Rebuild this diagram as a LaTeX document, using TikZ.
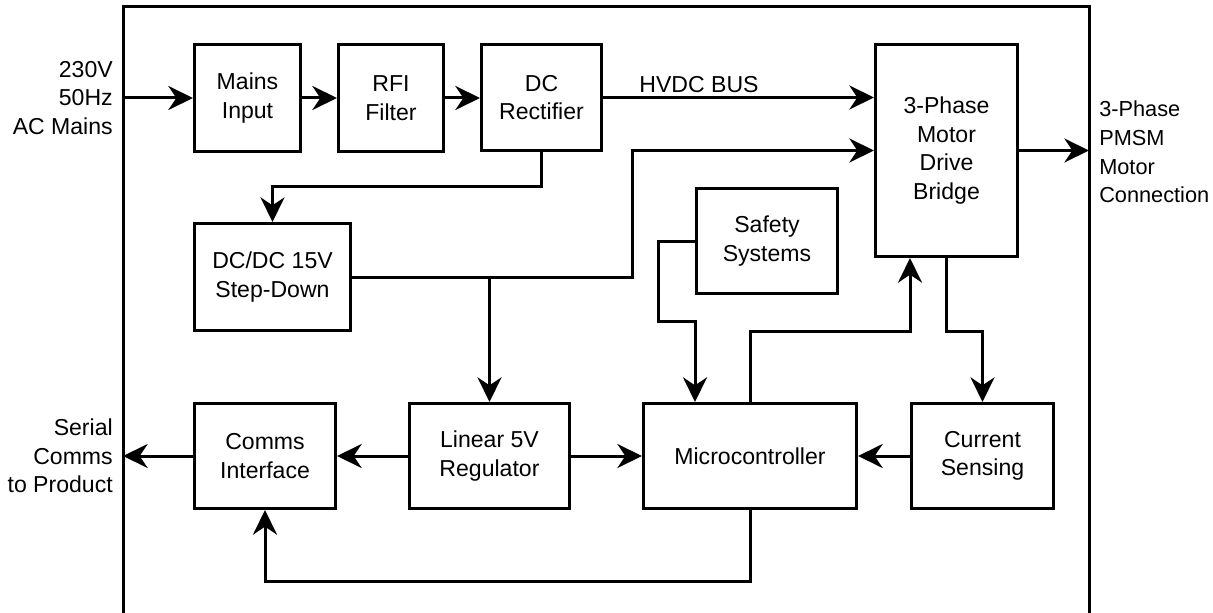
\documentclass[tikz,border=0pt]{standalone}
\usepackage{fontspec}
\setmainfont{Liberation Sans}
\usetikzlibrary{positioning,arrows.meta}

\begin{document}
\begin{tikzpicture}[x=0.75pt,y=-0.75pt,
    font=\fontsize{17.3pt}{21.4pt}\selectfont,
    blk/.style={draw,line width=2.25pt,align=center,inner sep=2pt,minimum height=78.75pt},
    arr/.style={-{Stealth[length=18.5pt,width=18pt,inset=6pt]},line width=2.25pt},
    wire/.style={line width=2.25pt}]
  \useasboundingbox (0,0) rectangle (1213,613);
  % enclosure
  \draw[wire] (123,613) -- (123,7) -- (1089,7) -- (1089,613);
  \coordinate (acin) at (123,98);
  \coordinate (serout) at (123,456);
  \coordinate (motout) at (1089,150.5);
  % power path
  \node[blk,minimum width=79.5pt,minimum height=80.25pt] (mains) at (247.5,98) {Mains\\Input};
  \node[blk,minimum width=78.75pt,minimum height=80.25pt] (rfi) at (391,98) {RFI\\Filter};
  \node[blk,minimum width=90pt,minimum height=79.5pt] (rect) at (541.5,97.5) {DC\\Rectifier};
  \node[blk,minimum width=106.5pt,minimum height=159pt] (bridge) at (946.5,150.5) {3-Phase\\Motor\\Drive\\Bridge};
  \node[blk,minimum width=117pt,minimum height=80.25pt] (dcdc) at (272.5,277) {DC/DC 15V\\Step-Down};
  \node[blk,minimum width=105.75pt] (safety) at (767,241) {Safety\\Systems};
  % control path
  \node[blk,minimum width=105.75pt] (comms) at (265,456) {Comms\\Interface};
  \node[blk,minimum width=120pt] (lin) at (489.5,456) {Linear 5V\\Regulator};
  \node[blk,minimum width=159.75pt] (micro) at (750,456) {Microcontroller};
  \node[blk,minimum width=106.5pt] (sense) at (982.5,456) {Current\\Sensing};
  % outside labels
  \node[anchor=east,align=right,inner sep=0pt] (aclbl) at (113,98) {230V\\50Hz\\AC Mains};
  \node[anchor=east,align=right,inner sep=0pt] (serlbl) at (113,456) {Serial\\Comms\\to Product};
  \node[anchor=west,align=left,inner sep=0pt,font=\fontsize{16.3pt}{21.4pt}\selectfont] (motlbl) at (1099,152) {3-Phase\\PMSM\\Motor\\Connection};
  \node (hvdc) at (699,85) {HVDC BUS};
  % connectors
  \draw[arr] (acin) -- (mains.west);
  \draw[arr] (mains) -- (rfi);
  \draw[arr] (rfi) -- (rect.west |- rfi.east);
  \draw[arr] (rect.east) -- (rect.east -| bridge.west);
  \draw[arr] (bridge.east) -- (motout);
  \draw[arr] (rect.south) -- ++(0,35) -| (dcdc.north);
  \draw[arr] (dcdc.east) -- +(280,0) |- (bridge.west);
  \draw[arr] (lin.north |- dcdc.east) -- (lin.north);
  \draw[arr] (safety.west) -| ++(-37,80) -| (micro.north -| safety.west);
  \draw[arr] (micro.north) -- ++(0,-71) -| (bridge.south -| sense.west);
  \draw[arr] (bridge.south) -- ++(0,73) -| (sense.north);
  \draw[arr] (sense) -- (micro);
  \draw[arr] (lin) -- (micro);
  \draw[arr] (lin) -- (comms);
  \draw[arr] (comms.west) -- (serout);
  \draw[arr] (micro.south) -- ++(0,71) -| (comms.south);
\end{tikzpicture}
\end{document}
